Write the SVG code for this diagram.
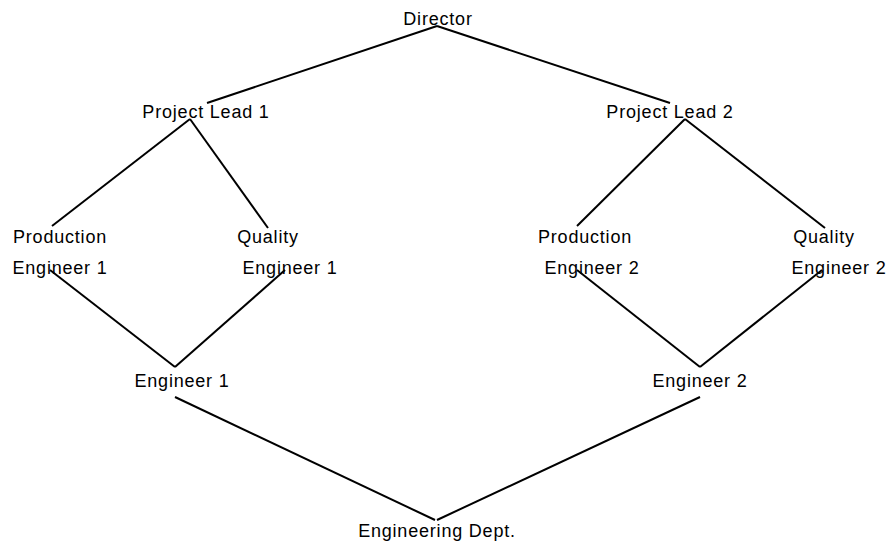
<svg xmlns="http://www.w3.org/2000/svg" width="894" height="544" viewBox="0 0 894 544">
<style>
text{font-family:"Liberation Sans",Arial,sans-serif;font-size:18px;letter-spacing:0.8px;fill:#000;text-anchor:middle}
.c line{stroke:#000;stroke-width:2;stroke-linecap:butt}
</style>
<rect width="894" height="544" fill="#fff"/>
<g class="c" id="connectors">
<line x1="437" y1="26" x2="207" y2="103"/>
<line x1="437" y1="26" x2="670" y2="103"/>
<line x1="190" y1="119" x2="52" y2="226"/>
<line x1="190" y1="119" x2="268" y2="228"/>
<line x1="685" y1="119" x2="577" y2="226"/>
<line x1="685" y1="119" x2="825" y2="228"/>
<line x1="50" y1="270" x2="175" y2="367"/>
<line x1="285" y1="270" x2="175" y2="367"/>
<line x1="577" y1="270" x2="700" y2="367"/>
<line x1="822" y1="270" x2="700" y2="367"/>
<line x1="175" y1="397" x2="435" y2="520"/>
<line x1="700" y1="397" x2="437" y2="520"/>
</g>
<g id="director"><text x="438" y="25">Director</text></g>
<g id="pl1"><text x="206" y="118">Project Lead 1</text></g>
<g id="pl2"><text x="670" y="118">Project Lead 2</text></g>
<g id="pe1"><text x="60" y="243">Production</text><text x="60" y="274">Engineer 1</text></g>
<g id="qe1"><text x="268" y="243">Quality</text><text x="290" y="274">Engineer 1</text></g>
<g id="pe2"><text x="585" y="243">Production</text><text x="592" y="274">Engineer 2</text></g>
<g id="qe2"><text x="824" y="243">Quality</text><text x="839" y="274">Engineer 2</text></g>
<g id="e1"><text x="182" y="387">Engineer 1</text></g>
<g id="e2"><text x="700" y="387">Engineer 2</text></g>
<g id="dept"><text x="437" y="537">Engineering Dept.</text></g>
</svg>
